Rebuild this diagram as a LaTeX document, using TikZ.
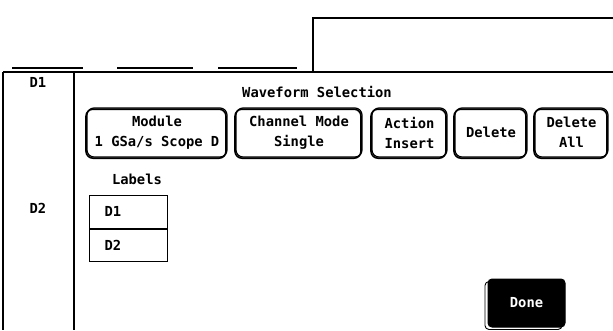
\documentclass[tikz,border=0pt]{standalone}
\usepackage{fontspec}
\newfontfamily\scrfont{DejaVu Sans Mono}
\begin{document}
\begin{tikzpicture}[x=1pt,y=-1pt,
  scr/.style={font=\scrfont\bfseries\fontsize{13.8}{20}\selectfont},
  thin line/.style={line width=1.1pt},
  softkey/.style={scr, draw, line width=1.2pt, rounded corners=7pt,
    minimum height=49pt, align=center, inner sep=2pt,
    preaction={draw, line width=1.6pt, rounded corners=7pt,
      transform canvas={shift={(-1pt,-1.2pt)}}}},
  donekey/.style={scr, draw, fill=black, text=white, line width=1pt,
    rounded corners=4pt, minimum width=77pt, minimum height=48pt,
    preaction={draw, line width=0.9pt, rounded corners=4pt,
      transform canvas={shift={(-3pt,-2.5pt)}}}},
  labelrow/.style={scr, draw, line width=1.1pt, text width=48pt,
    align=left, inner xsep=15pt, minimum height=32.5pt, inner ysep=0pt},
  plain/.style={scr, inner sep=0pt}]
\useasboundingbox (0,0) rectangle (613,330);

% upper window outline
\coordinate (wtl) at (313,18);
\coordinate (wbl) at (313,72);
\coordinate (wtr) at (613,18);
\draw[thin line] (wbl) -- (wtl) -- (wtr);

% tab stubs above the panel
\coordinate (t1a) at (12,68);  \coordinate (t1b) at (83,68);
\coordinate (t2a) at (117,68); \coordinate (t2b) at (193,68);
\coordinate (t3a) at (218,68); \coordinate (t3b) at (297,68);
\draw[thin line] (t1a) -- (t1b) (t2a) -- (t2b) (t3a) -- (t3b);

% panel frame
\coordinate (ftl) at (3,72);
\coordinate (ftr) at (613,72);
\coordinate (fbl) at (3,330);
\coordinate (ctop) at (74,72);
\coordinate (cbot) at (74,330);
\draw[line width=2.4pt] (ftl) -- (ftr);
\draw[line width=1.2pt] (ftl) -- (fbl);
\draw[line width=1.4pt] (ctop) -- (cbot);

% channel names in the left column
\node[plain] (ch1) at (38,82) {D1};
\node[plain] (ch2) at (38,208) {D2};

% title
\node[plain] (title) at (317,92) {Waveform Selection};

% soft keys
\node[softkey, minimum width=140pt] (module) at (157,132.5) {Module\\1 GSa/s Scope D};
\node[softkey, minimum width=126pt] (chmode) at (299,132.5) {Channel Mode\\Single};
\node[softkey, minimum width=75pt] (action) at (409.5,132.5) {Action\\Insert};
\node[softkey, minimum width=72pt] (delete) at (491,132.5) {Delete};
\node[softkey, minimum width=73pt] (delall) at (571.5,132.5) {Delete\\All};

% label list
\node[plain] (labels) at (137,179) {Labels};
\node[labelrow, anchor=north west] (row1) at (89,195) {D1};
\node[labelrow, anchor=north] (row2) at (row1.south) {D2};

% done key
\node[donekey] (done) at (526.5,303) {Done};
\end{tikzpicture}
\end{document}
